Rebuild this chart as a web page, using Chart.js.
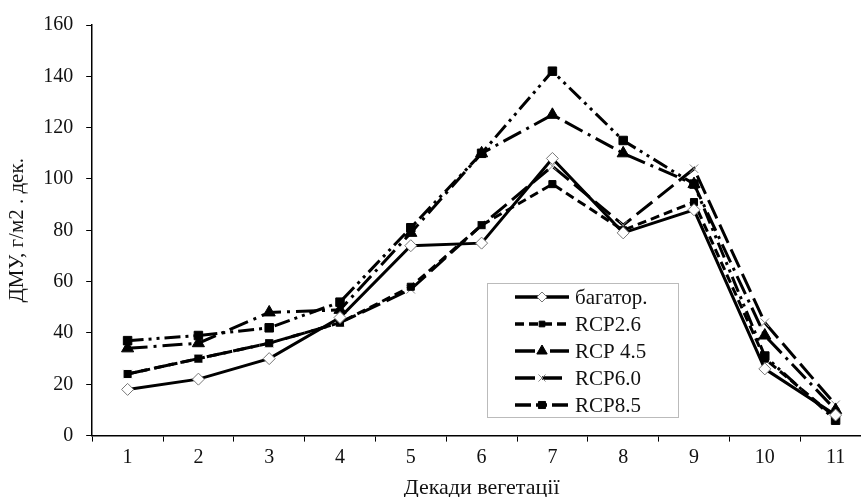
<!DOCTYPE html>
<html>
<head>
<meta charset="utf-8">
<script src="https://cdn.jsdelivr.net/npm/chart.js@4"></script>
<style>
  html, body { margin: 0; padding: 0; background: #fff; overflow: hidden; }
  #wrap { position: relative; width: 880px; height: 505px; }
</style>
</head>
<body>
<div id="wrap"><canvas id="dmuChart"></canvas></div>
<script>
// decades of vegetation
var decades = ['1', '2', '3', '4', '5', '6', '7', '8', '9', '10', '11'];

var baseline = [18, 22, 30, 46, 74, 75, 108, 79, 88, 26, 8];
var rcp26 = [24, 30, 36, 44, 58, 82, 98, 80, 91, 30, 7];
var rcp45 = [34, 36, 48, 49, 79, 110, 125, 110, 98, 39, 10];
var rcp60 = [24, 30, 36, 44, 57, 82, 105, 82, 104, 44, 12];
var rcp85 = [37, 39, 42, 52, 81, 110, 142, 115, 98, 31, 6];

var seriesNames = ['багатор.', 'RCP2.6', 'RCP 4.5', 'RCP6.0', 'RCP8.5'];
var yTicks = [0, 20, 40, 60, 80, 100, 120, 140, 160];

var serif = '"Liberation Serif", "Times New Roman", serif';

// legend drawn inside the plot, like the original
var boxLegend = {
  id: 'boxLegend',
  afterDraw: function(chart) {
    var ctx = chart.ctx;
    var x0 = 487, y0 = 283, w = 191, h = 134;
    ctx.save();
    ctx.fillStyle = '#fff';
    ctx.fillRect(x0, y0, w, h);
    ctx.strokeStyle = '#bbb';
    ctx.lineWidth = 1;
    ctx.strokeRect(x0 + 0.5, y0 + 0.5, w, h);
    chart.data.datasets.forEach(function(ds, i) {
      var y = y0 + 14 + i * 27;
      ctx.beginPath();
      ctx.setLineDash(ds.borderDash || []);
      ctx.strokeStyle = '#000';
      ctx.lineWidth = 3.5;
      ctx.moveTo(x0 + 28, y);
      ctx.lineTo(x0 + 82, y);
      ctx.stroke();
      ctx.setLineDash([]);
      ctx.fillStyle = ds.pointBackgroundColor;
      ctx.strokeStyle = ds.pointBorderColor;
      ctx.lineWidth = ds.pointBorderWidth;
      Chart.helpers.drawPoint(ctx, {
        pointStyle: ds.pointStyle,
        radius: ds.pointRadius - 1,
        borderWidth: ds.pointBorderWidth
      }, x0 + 55, y);
      ctx.fillStyle = '#111';
      ctx.font = '21px ' + serif;
      ctx.textBaseline = 'middle';
      ctx.fillText(ds.label, x0 + 88, y + 1);
    });
    ctx.restore();
  }
};

function makeSet(label, data, dash, style, radius, fill, border, bw) {
  return {
    label: label,
    data: data,
    borderColor: '#000',
    borderWidth: 3,
    borderDash: dash,
    pointStyle: style,
    pointRadius: radius,
    pointHoverRadius: radius,
    pointBackgroundColor: fill,
    pointBorderColor: border,
    pointBorderWidth: bw,
    tension: 0,
    fill: false
  };
}

var ctx = document.getElementById('dmuChart').getContext('2d');
var dmuChart = new Chart(ctx, {
  type: 'line',
  data: {
    labels: decades,
    datasets: [
      makeSet(seriesNames[0], baseline, [], 'rectRot', 6, '#fff', '#777', 1),
      makeSet(seriesNames[1], rcp26, [9, 5], 'rect', 5, '#000', '#000', 1),
      makeSet(seriesNames[2], rcp45, [20, 6, 3, 6], 'triangle', 7, '#000', '#000', 1),
      makeSet(seriesNames[3], rcp60, [20, 7], 'crossRot', 6, '#fff', '#888', 1),
      makeSet(seriesNames[4], rcp85, [16, 5, 3, 5, 3, 5], 'rect', 6, '#000', '#000', 1)
    ]
  },
  options: {
    responsive: true,
    maintainAspectRatio: false,
    animation: false,
    layout: { padding: { top: 21, right: 9, left: 5, bottom: 4 } },
    plugins: {
      legend: { display: false },
      tooltip: { enabled: false }
    },
    scales: {
      x: {
        offset: true,
        grid: {
          offset: true,
          drawOnChartArea: false,
          drawTicks: true,
          tickLength: 6,
          color: '#000'
        },
        border: { color: '#000', width: 1.5 },
        ticks: {
          color: '#111',
          font: { family: serif, size: 20 },
          padding: 4
        },
        title: {
          display: true,
          text: 'Декади вегетації',
          color: '#111',
          font: { family: serif, size: 22 },
          padding: { top: 1, bottom: 0 }
        }
      },
      y: {
        min: 0,
        max: 160,
        afterBuildTicks: function(axis) {
          axis.ticks = yTicks.map(function(v) { return { value: v }; });
        },
        grid: {
          drawOnChartArea: false,
          drawTicks: true,
          tickLength: 6,
          color: '#000'
        },
        border: { color: '#000', width: 1.5 },
        ticks: {
          color: '#111',
          font: { family: serif, size: 20 },
          padding: 13
        },
        title: {
          display: true,
          text: 'ДМУ, г/м2 . дек.',
          color: '#111',
          font: { family: serif, size: 21 },
          padding: { top: 0, bottom: 0 }
        }
      }
    }
  },
  plugins: [boxLegend]
});
</script>
</body>
</html>
